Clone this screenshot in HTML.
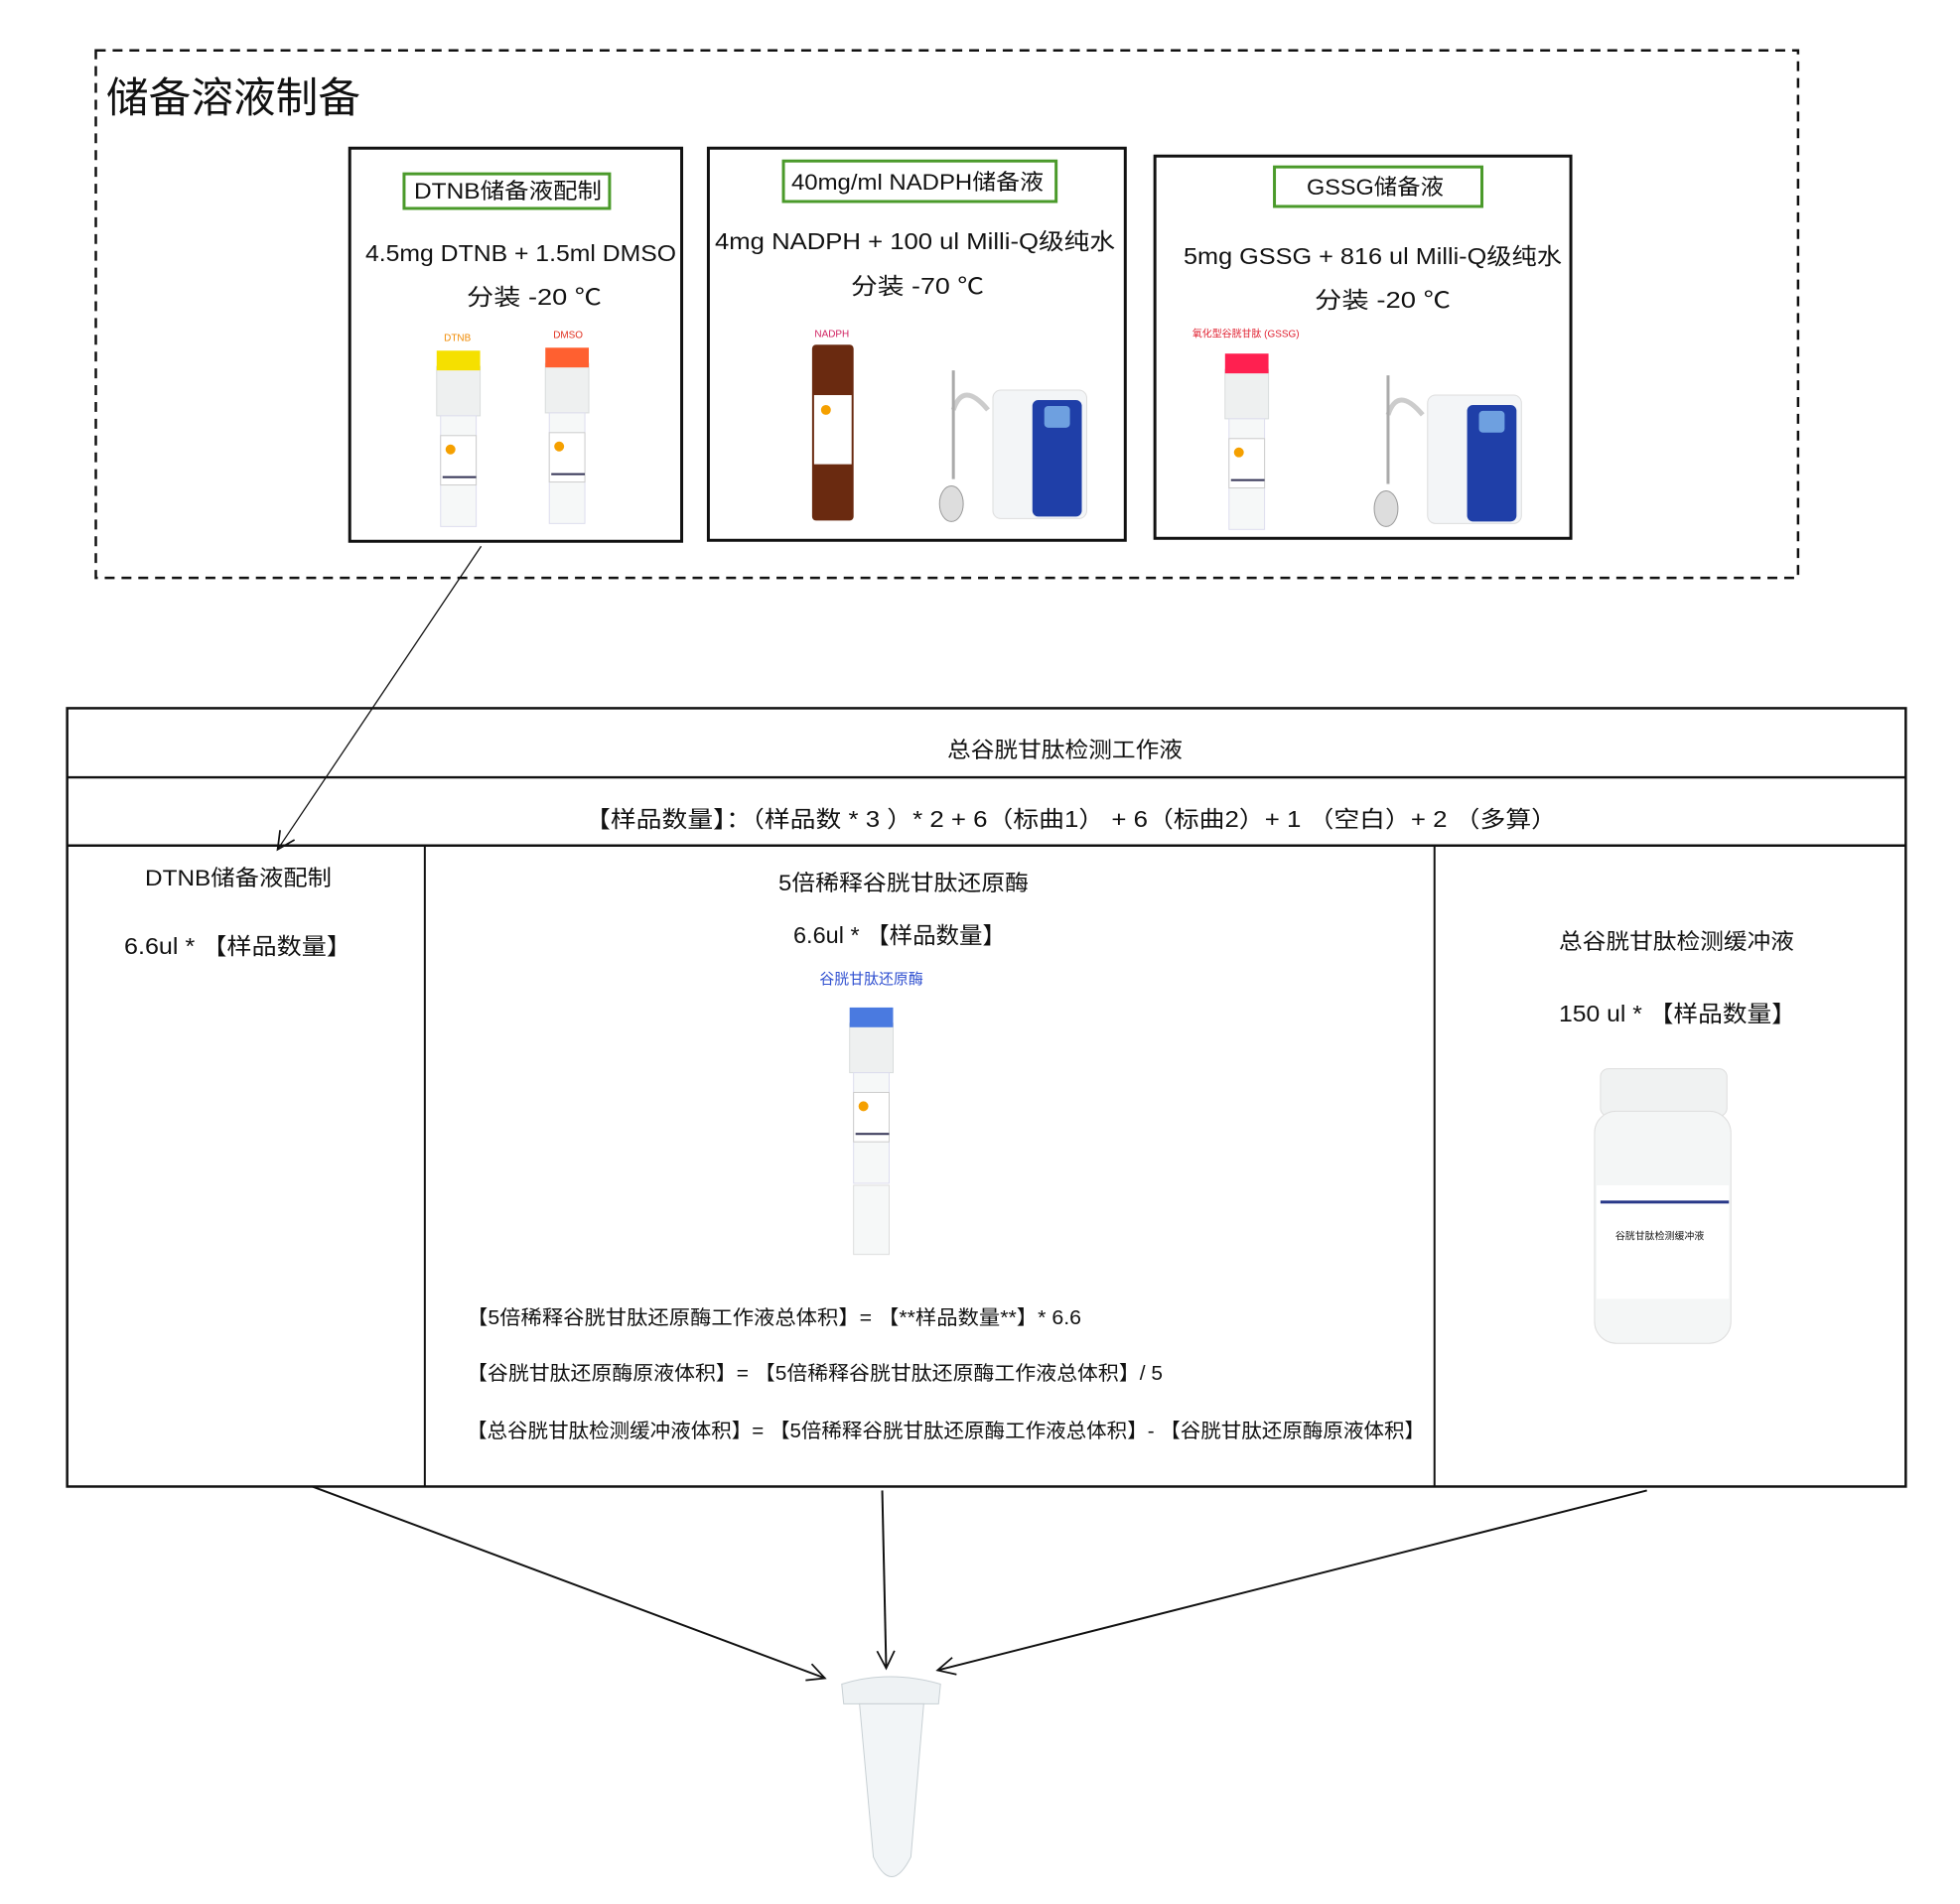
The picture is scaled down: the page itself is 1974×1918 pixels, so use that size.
<!DOCTYPE html>
<html><head><meta charset="utf-8"><style>
html,body{margin:0;padding:0;background:#fff;}
svg{display:block;}
text{font-family:"Liberation Sans","Noto Sans CJK SC",sans-serif;fill:#111;}
</style></head><body>
<svg width="1974" height="1918" viewBox="0 0 1974 1918" xmlns="http://www.w3.org/2000/svg">
<defs>
<marker id="ah" viewBox="0 0 20 20" refX="18" refY="10" markerWidth="22" markerHeight="22" markerUnits="userSpaceOnUse" orient="auto">
<path d="M2,2 L18,10 L2,18" fill="none" stroke="#111" stroke-width="1.6"/>
</marker>
<g id="tube">
<rect x="0" y="18" width="44" height="50" fill="#eef0f0" stroke="#d8dcdc"/>
<rect x="4" y="68" width="36" height="112" fill="#f6f8f8" stroke="#dde"/>
<rect x="4" y="88" width="36" height="50" fill="#fff" stroke="#ccc"/>
<circle cx="14" cy="102" r="5" fill="#f5a000"/>
<line x1="6" y1="130" x2="40" y2="130" stroke="#335" stroke-width="2"/>
</g>
<g id="purifier">
<rect x="60" y="40" width="95" height="130" rx="8" fill="#f3f5f7" stroke="#ddd"/>
<rect x="100" y="50" width="50" height="118" rx="6" fill="#1f3fa8"/>
<rect x="112" y="56" width="26" height="22" rx="4" fill="#6ea0e0"/>
<path d="M55,60 Q30,30 20,60" fill="none" stroke="#ccc" stroke-width="5"/>
<line x1="20" y1="20" x2="20" y2="130" stroke="#aaa" stroke-width="3"/>
<ellipse cx="18" cy="155" rx="12" ry="18" fill="#ddd" stroke="#999"/>
</g>
</defs>

<g transform="scale(0.995)">
<rect x="97" y="51" width="1723" height="534" fill="none" stroke="#111" stroke-width="2.5" stroke-dasharray="10,7"/>

<rect x="354" y="150" width="336" height="398" fill="#fff" stroke="#111" stroke-width="3"/>
<rect x="409" y="176" width="208" height="35" fill="none" stroke="#4a9a2a" stroke-width="3"/>
<text x="463" y="345" font-size="10" text-anchor="middle" style="fill:#f08a00">DTNB</text>
<text x="575" y="342" font-size="10" text-anchor="middle" style="fill:#e03020">DMSO</text>
<use href="#tube" x="442" y="353"/>
<rect x="442" y="355" width="44" height="20" fill="#f5e000"/>
<use href="#tube" x="552" y="350"/>
<rect x="552" y="352" width="44" height="20" fill="#ff6030"/>

<rect x="717" y="150" width="422" height="397" fill="#fff" stroke="#111" stroke-width="3"/>
<rect x="793" y="163" width="276" height="41" fill="none" stroke="#4a9a2a" stroke-width="3"/>
<text x="842" y="341" font-size="10" text-anchor="middle" style="fill:#d02060">NADPH</text>
<rect x="822" y="349" width="42" height="178" rx="4" fill="#6a2a10"/>
<rect x="824" y="400" width="38" height="70" fill="#fff"/>
<circle cx="836" cy="415" r="5" fill="#f5a000"/>
<use href="#purifier" x="945" y="355"/>

<rect x="1169" y="158" width="421" height="387" fill="#fff" stroke="#111" stroke-width="3"/>
<rect x="1290" y="169" width="210" height="40" fill="none" stroke="#4a9a2a" stroke-width="3"/>
<text x="1261" y="341" font-size="10" text-anchor="middle" style="fill:#e02030">氧化型谷胱甘肽 (GSSG)</text>
<use href="#tube" x="1240" y="356"/>
<rect x="1240" y="358" width="44" height="20" fill="#ff2050"/>
<use href="#purifier" x="1385" y="360"/>

<rect x="68" y="717" width="1861" height="788" fill="none" stroke="#111" stroke-width="2.5"/>
<line x1="68" y1="787" x2="1929" y2="787" stroke="#111" stroke-width="2.5"/>
<line x1="68" y1="856" x2="1929" y2="856" stroke="#111" stroke-width="2.5"/>
<line x1="430" y1="856" x2="430" y2="1505" stroke="#111" stroke-width="2"/>
<line x1="1452" y1="856" x2="1452" y2="1505" stroke="#111" stroke-width="2"/>

<text x="882" y="996" font-size="15" text-anchor="middle" style="fill:#3050d0">谷胱甘肽还原酶</text>
<use href="#tube" x="860" y="1018"/>
<rect x="860" y="1020" width="44" height="20" fill="#4a7ae0"/>
<rect x="864" y="1200" width="36" height="70" fill="#f6f8f8" stroke="#ddd"/>

<rect x="1620" y="1082" width="128" height="48" rx="8" fill="#f0f2f2" stroke="#ddd"/>
<rect x="1614" y="1125" width="138" height="235" rx="22" fill="#f4f6f6" stroke="#ddd"/>
<rect x="1616" y="1200" width="134" height="115" fill="#fff"/>
<line x1="1620" y1="1217" x2="1750" y2="1217" stroke="#2a3a8a" stroke-width="3"/>
<text x="1680" y="1255" font-size="10" text-anchor="middle">谷胱甘肽检测缓冲液</text>

<line x1="487" y1="553" x2="281" y2="860" stroke="#111" stroke-width="1.3" marker-end="url(#ah)"/>
<line x1="316" y1="1505" x2="835" y2="1699" stroke="#111" stroke-width="2" marker-end="url(#ah)"/>
<line x1="893" y1="1509" x2="897" y2="1689" stroke="#111" stroke-width="2" marker-end="url(#ah)"/>
<line x1="1667" y1="1509" x2="949" y2="1691" stroke="#111" stroke-width="2" marker-end="url(#ah)"/>

<path d="M852,1705 Q900,1690 952,1705 L950,1725 L854,1725 Z" fill="#eef2f4" stroke="#c8d0d4"/>
<path d="M870,1725 L935,1725 L922,1880 Q902,1920 884,1880 Z" fill="#f2f5f7" stroke="#c8d0d4"/>
</g>

<g lengthAdjust="spacingAndGlyphs">
<text x="107" y="113" font-size="42" textLength="256" lengthAdjust="spacingAndGlyphs">储备溶液制备</text>
<text x="417" y="200" font-size="22" textLength="189" lengthAdjust="spacingAndGlyphs">DTNB储备液配制</text>
<text x="368" y="263" font-size="23" textLength="313" lengthAdjust="spacingAndGlyphs">4.5mg DTNB + 1.5ml DMSO</text>
<text x="470" y="307" font-size="23" textLength="136" lengthAdjust="spacingAndGlyphs">分装 -20 ℃</text>
<text x="797" y="191" font-size="22" textLength="254" lengthAdjust="spacingAndGlyphs">40mg/ml NADPH储备液</text>
<text x="720" y="251" font-size="23" textLength="403" lengthAdjust="spacingAndGlyphs">4mg NADPH  + 100 ul Milli-Q级纯水</text>
<text x="857" y="296" font-size="23" textLength="134" lengthAdjust="spacingAndGlyphs">分装 -70 ℃</text>
<text x="1316" y="196" font-size="22" textLength="138" lengthAdjust="spacingAndGlyphs">GSSG储备液</text>
<text x="1192" y="266" font-size="23" textLength="381" lengthAdjust="spacingAndGlyphs">5mg GSSG + 816 ul Milli-Q级纯水</text>
<text x="1324" y="310" font-size="23" textLength="137" lengthAdjust="spacingAndGlyphs">分装 -20 ℃</text>

<text x="954" y="763" font-size="22" textLength="237" lengthAdjust="spacingAndGlyphs">总谷胱甘肽检测工作液</text>
<text x="589" y="833" font-size="23" textLength="979" lengthAdjust="spacingAndGlyphs">【样品数量】：（样品数 * 3 ）* 2 + 6（标曲1） + 6（标曲2）+ 1 （空白）+ 2 （多算）</text>
<text x="146" y="892" font-size="22" textLength="188" lengthAdjust="spacingAndGlyphs">DTNB储备液配制</text>
<text x="125" y="961" font-size="23" textLength="229" lengthAdjust="spacingAndGlyphs">6.6ul *  【样品数量】</text>
<text x="784" y="897" font-size="22" textLength="252" lengthAdjust="spacingAndGlyphs">5倍稀释谷胱甘肽还原酶</text>
<text x="799" y="950" font-size="23" textLength="214" lengthAdjust="spacingAndGlyphs">6.6ul * 【样品数量】</text>
<text x="470" y="1334" font-size="20" textLength="619" lengthAdjust="spacingAndGlyphs">【5倍稀释谷胱甘肽还原酶工作液总体积】= 【**样品数量**】* 6.6</text>
<text x="470" y="1390" font-size="20" textLength="701" lengthAdjust="spacingAndGlyphs">【谷胱甘肽还原酶原液体积】= 【5倍稀释谷胱甘肽还原酶工作液总体积】/ 5</text>
<text x="470" y="1448" font-size="20" textLength="965" lengthAdjust="spacingAndGlyphs">【总谷胱甘肽检测缓冲液体积】= 【5倍稀释谷胱甘肽还原酶工作液总体积】- 【谷胱甘肽还原酶原液体积】</text>
<text x="1570" y="956" font-size="22" textLength="237" lengthAdjust="spacingAndGlyphs">总谷胱甘肽检测缓冲液</text>
<text x="1570" y="1029" font-size="23" textLength="239" lengthAdjust="spacingAndGlyphs">150 ul *  【样品数量】</text>
</g>
</svg>
</body></html>
